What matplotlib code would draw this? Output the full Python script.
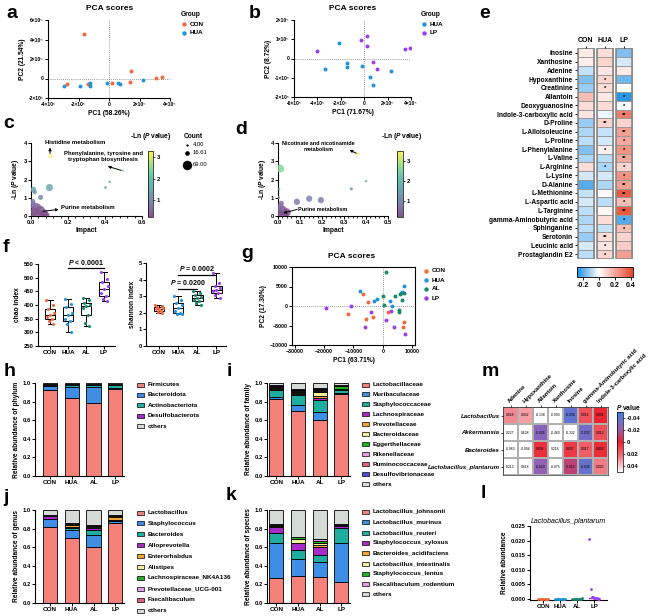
import matplotlib.pyplot as plt
import numpy as np
from matplotlib.cm import ScalarMappable
from matplotlib.colors import LinearSegmentedColormap, ListedColormap, Normalize
from matplotlib.patches import Rectangle
from matplotlib.ticker import MultipleLocator

W, H = 650, 616
GROUPS = ["CON", "HUA", "AL", "LP"]
GROUP_COLORS = {"CON": "#f2683c", "HUA": "#1f93dc", "AL": "#17886c", "LP": "#9b3cf0"}

# ---- a: PCA CON vs HUA (x10^5)
a_con_x = [-1.62, -2.75, -1.38, 0.22, 1.44, 1.40, 3.06, 3.48]
a_con_y = [4.55, -0.52, -0.52, -0.49, 0.73, -0.35, 0.02, 0.14]
a_hua_x = [-2.97, -1.92, -1.27, -1.27, -0.11, 0.61, 0.74, 2.21]
a_hua_y = [-0.80, -0.73, -0.42, -0.76, -0.42, -0.42, -0.56, -0.17]

# ---- b: PCA HUA vs LP (x10^5)
b_hua_x = [-2.18, -3.32, -1.44, -1.47, -0.21, 0.47, 0.71, 2.29]
b_hua_y = [0.78, -0.57, -0.22, -0.43, -0.40, -0.95, -1.36, -0.66]
b_lp_x = [-4.0, -0.26, 0.24, 0.24, 0.76, 1.09, 3.47, 3.88]
b_lp_y = [0.41, 0.95, 1.17, 0.64, -0.16, -0.52, 0.47, 0.55]

# ---- c / d: pathway impact bubbles (impact, -ln p, count)
c_impact = [0.105, 0.497, 0.425, 0.403, 0.100, 0.013, 0.020, 0.052, 0.010, 0.030, 0.050, 0.020, 0.070, 0.005, 0.040, 0.080, 0.010]
c_lnp = [3.27, 2.49, 1.87, 1.56, 1.56, 1.45, 1.31, 1.02, 0.60, 0.45, 0.30, 0.25, 0.15, 0.10, 0.05, 0.05, 0.80]
c_count = [10, 4, 5, 6, 40, 25, 15, 20, 40, 69, 69, 50, 45, 30, 69, 40, 20]
d_impact = [0.364, 0.400, 0.333, 0.010, 0.005, 0.002, 0.086, 0.142, 0.195, 0.010, 0.020, 0.040, 0.005, 0.015, 0.030]
d_lnp = [3.40, 1.91, 1.49, 2.60, 1.47, 1.00, 0.78, 0.95, 0.87, 0.50, 0.30, 0.20, 0.15, 0.70, 0.05]
d_count = [8, 5, 8, 50, 5, 8, 30, 30, 30, 40, 69, 50, 60, 20, 40]

# ---- e: metabolite heatmap
e_metabolites = ["Inosine", "Xanthosine", "Adenine", "Hypoxanthine", "Creatinine", "Allantoin",
                 "Deoxyguanosine", "Indole-3-carboxylic acid", "D-Proline", "L-Alloisoleucine",
                 "L-Proline", "L-Phenylalanine", "L-Valine", "L-Arginine", "L-Lysine", "D-Alanine",
                 "L-Methionine", "L-Aspartic acid", "L-Targinine", "gamma-Aminobutyric acid",
                 "Sphinganine", "Serotonin", "Leucinic acid", "Prostaglandin E2"]
e_columns = ["CON", "HUA", "LP"]
e_con = [0.05, 0.04, -0.07, -0.15, -0.12, 0.15, 0.08, 0.06, -0.12, -0.10, -0.08, -0.15,
         -0.10, 0.08, -0.05, -0.20, -0.07, -0.05, -0.08, -0.10, -0.08, -0.12, -0.05, -0.08]
e_hua = [0.08, 0.10, 0.06, 0.10, 0.08, 0.05, 0.08, -0.02, 0.10, -0.07, -0.05, 0.03,
         -0.08, -0.10, -0.05, -0.10, 0.01, -0.08, 0.02, 0.08, -0.07, 0.08, 0.06, 0.10]
e_lp = [-0.15, -0.05, 0.05, -0.17, 0.00, -0.25, 0.00, 0.30, 0.10, 0.22, 0.20, 0.25,
        0.20, 0.10, 0.25, 0.22, 0.38, 0.15, 0.38, -0.20, 0.15, 0.10, 0.12, 0.22]
e_hua_stars = ["", "", "", "*", "*", "", "", "", "**", "", "", "*", "", "*", "", "", "", "", "", "", "", "**", "*", "*"]
e_lp_stars = ["", "", "", "", "", "*", "*", "**", "", "**", "*", "*", "**", "*", "*", "**", "**", "*", "**", "*", "*", "", "", ""]

# ---- f: alpha diversity
chao = {"CON": [420, 400, 385, 372, 362, 355, 348, 340, 330],
        "HUA": [422, 405, 392, 372, 365, 350, 340, 330, 300],
        "AL": [425, 418, 408, 400, 395, 388, 365, 335, 325],
        "LP": [520, 495, 485, 468, 458, 445, 432, 422, 415]}
shannon = {"CON": [2.50, 2.42, 2.35, 2.30, 2.25, 2.20, 2.12, 2.05, 2.00],
           "HUA": [3.00, 2.80, 2.62, 2.45, 2.30, 2.12, 2.00, 1.95, 1.90],
           "AL": [3.30, 3.20, 3.05, 2.95, 2.90, 2.80, 2.70, 2.60, 2.50],
           "LP": [4.40, 3.80, 3.62, 3.50, 3.40, 3.30, 3.20, 3.05, 2.90]}

# ---- g: PCA 4 groups
g_x = {"CON": [-6900, -5100, -11800, -5800, -3300, 1700, 7300, 7000],
       "HUA": [7100, -7900, -3100, -2000, 2400, 3200, 6100, 6600],
       "AL": [1000, 5900, 7200, 4300, 0, 400, 5500, 5700, 6500],
       "LP": [-19300, -10700, -4000, 2800, 1200, -6200, 3800, 7700]}
g_y = {"CON": [3100, 900, -2100, -3400, -2700, -1500, -4000, -5300],
       "HUA": [5200, 3850, 1300, 1700, 1200, -100, 3300, 3500],
       "AL": [8700, 3200, 3400, 2500, 2500, 350, -1100, -1500, 1500],
       "LP": [-600, -100, -1500, -1300, -3700, -5500, -5500, -7200]}

# ---- h-k: relative abundance
phylum_names = ["Firmicutes", "Bacteroidota", "Actinobacteriota", "Desulfobacterota", "others"]
phylum_vals = [[0.930, 0.843, 0.780, 0.937],
               [0.040, 0.117, 0.180, 0.008],
               [0.012, 0.020, 0.020, 0.035],
               [0.004, 0.004, 0.004, 0.004],
               [0.014, 0.016, 0.016, 0.016]]
family_names = ["Lactobacillaceae", "Muribaculaceae", "Staphylococcaceae", "Lachnospiraceae",
                "Prevotellaceae", "Bacteroidaceae", "Eggerthellaceae", "Rikenellaceae",
                "Ruminococcaceae", "Desulfovibrionaceae", "others"]
family_vals = [[0.825, 0.697, 0.607, 0.885],
               [0.025, 0.063, 0.083, 0.005],
               [0.080, 0.108, 0.125, 0.030],
               [0.008, 0.012, 0.022, 0.005],
               [0.005, 0.012, 0.020, 0.004],
               [0.005, 0.012, 0.045, 0.004],
               [0.012, 0.010, 0.015, 0.030],
               [0.004, 0.006, 0.010, 0.004],
               [0.006, 0.008, 0.012, 0.004],
               [0.004, 0.006, 0.010, 0.004],
               [0.026, 0.066, 0.051, 0.025]]
genus_names = ["Lactobacillus", "Staphylococcus", "Bacteroides", "Alloprevotella", "Enterorhabdus",
               "Alistipes", "Lachnospiraceae_NK4A136", "Prevotellaceae_UCG-001", "Faecalibaculum", "others"]
genus_vals = [[0.820, 0.694, 0.597, 0.856],
              [0.080, 0.090, 0.133, 0.024],
              [0.004, 0.018, 0.054, 0.006],
              [0.030, 0.018, 0.025, 0.008],
              [0.006, 0.014, 0.012, 0.035],
              [0.003, 0.006, 0.006, 0.004],
              [0.003, 0.010, 0.006, 0.008],
              [0.002, 0.004, 0.004, 0.003],
              [0.002, 0.002, 0.003, 0.003],
              [0.050, 0.144, 0.160, 0.053]]
species_names = ["Lactobacillus_johnsonii", "Lactobacillus_murinus", "Lactobacillus_reuteri",
                 "Staphylococcus_xylosus", "Bacteroides_acidifaciens", "Lactobacillus_intestinalis",
                 "Staphylococcus_lentus", "Faecalibaculum_rodentium", "others"]
species_vals = [[0.270, 0.288, 0.280, 0.230],
                [0.370, 0.190, 0.162, 0.410],
                [0.115, 0.090, 0.072, 0.170],
                [0.065, 0.072, 0.083, 0.020],
                [0.005, 0.008, 0.023, 0.004],
                [0.005, 0.035, 0.025, 0.004],
                [0.012, 0.022, 0.025, 0.004],
                [0.003, 0.007, 0.015, 0.008],
                [0.155, 0.288, 0.315, 0.150]]

# ---- l: L. plantarum abundance
plantarum = {"CON": [0, 0, 0, 0, 0, 0, 0, 0, 0],
             "HUA": [0, 0, 0, 0, 0, 0, 0, 0, 0],
             "AL": [0, 0, 0, 0, 0, 0, 0, 0, 0.0002],
             "LP": [0.0205, 0.0033, 0.0008, 0.0006, 0.0004, 0.0003, 0.0002, 0.0001, 0.0]}

# ---- m: correlation p-values (signed)
m_columns = ["Adenine", "Hypoxanthine", "Allantoin", "Xanthosine", "Inosine",
             "gamma-Aminobutyric acid", "Indole-3-carboxylic acid"]
m_rows = ["Lactobacillus", "Akkermansia", "Bacteroides", "Lactobacillus_plantarum"]
m_vals = [[0.028, 0.032, -0.138, -0.093, -0.038, 0.014, 0.001],
          [0.227, 0.628, -0.026, -0.460, -0.332, -0.032, 0.013],
          [-0.063, -0.094, 0.004, 0.218, 0.007, 0.017, 0.003],
          [0.213, 0.618, -0.023, -0.075, -0.012, -0.036, 0.025]]

TAXA_COLORS = ["#f4827b", "#3f8ee6", "#1fada0", "#a62bc8", "#f5a236", "#f4f09a",
               "#22b022", "#e79ae8", "#e0607e", "#4a4ad8"]
OTHERS_COLOR = "#d6dad6"

plt.rcParams.update({
    "font.family": ["Liberation Sans", "DejaVu Sans"],
    "font.size": 4.5,
    "font.weight": "bold",
    "axes.linewidth": 0.8,
    "axes.labelweight": "bold",
    "axes.labelsize": 4.8,
    "axes.labelpad": 2,
    "axes.spines.top": False,
    "axes.spines.right": False,
    "xtick.labelsize": 4.2,
    "ytick.labelsize": 4.2,
    "xtick.major.width": 0.7,
    "ytick.major.width": 0.7,
    "xtick.major.size": 2,
    "ytick.major.size": 2,
    "xtick.minor.size": 1.2,
    "xtick.major.pad": 1,
    "ytick.major.pad": 1,
    "mathtext.fontset": "custom",
    "mathtext.it": "Liberation Sans:italic:bold",
    "mathtext.rm": "Liberation Sans:bold",
    "mathtext.bf": "Liberation Sans:bold",
})

fig = plt.figure(figsize=(6.5, 6.16), dpi=100)
fig.patch.set_facecolor("white")


def px_axes(left, top, right, bottom, **kw):
    return fig.add_axes([left / W, 1 - bottom / H, (right - left) / W, (bottom - top) / H], **kw)


ov = fig.add_axes([0, 0, 1, 1], zorder=20)
ov.set_xlim(0, W)
ov.set_ylim(H, 0)
ov.axis("off")
ov.patch.set_alpha(0)

for letter, (lx, ly) in {"a": (12, 14), "b": (255, 14), "c": (9, 124), "d": (241, 130), "e": (485, 14),
                         "f": (6, 247), "g": (247, 253), "h": (10, 371), "i": (229, 371), "j": (6, 497),
                         "k": (231, 495), "l": (483, 493), "m": (490, 372)}.items():
    ov.text(lx, ly, letter, fontsize=14, fontweight="bold", ha="center", va="center")


def sci_labels(ticks):
    return ["0" if t == 0 else f"{t:d}×10⁵" for t in ticks]


def pca_panel(box, xlim, ylim, xticks, yticks, series, xlabel, ylabel, title, tx):
    ax = px_axes(*box)
    for xs, ys, col in series:
        ax.scatter(xs, ys, s=8, color=col, linewidths=0, zorder=3)
    ax.axhline(0, ls=(0, (1, 1.5)), color="#777777", lw=0.6)
    ax.axvline(0, ls=(0, (1, 1.5)), color="#777777", lw=0.6)
    ax.set_xlim(*xlim)
    ax.set_ylim(*ylim)
    ax.set_xticks(xticks)
    ax.set_xticklabels(sci_labels(xticks), fontsize=3.6)
    ax.set_yticks(yticks)
    ax.set_yticklabels(sci_labels(yticks), fontsize=3.6)
    ax.set_xlabel(xlabel)
    ax.set_ylabel(ylabel)
    ov.text(tx, 8, title, fontsize=6, ha="center", va="center")
    return ax


pca_panel((48, 20, 170, 98), (-4, 4), (-2, 6), [-4, -2, 0, 2, 4], [-2, 0, 2, 4, 6],
          [(a_con_x, a_con_y, GROUP_COLORS["CON"]), (a_hua_x, a_hua_y, GROUP_COLORS["HUA"])],
          "PC1 (58.26%)", "PC2 (21.54%)", "PCA scores", 110)
pca_panel((294, 20, 411, 97), (-6, 4), (-2, 2), [-6, -4, -2, 0, 2, 4], [-2, -1, 0, 1, 2],
          [(b_hua_x, b_hua_y, GROUP_COLORS["HUA"]), (b_lp_x, b_lp_y, GROUP_COLORS["LP"])],
          "PC1 (71.67%)", "PC2 (8.72%)", "PCA scores", 353)


def dot_legend(x, y0, dy, names, colors, title=None):
    if title:
        ov.text(x - 3, y0 - dy, title, fontsize=4.8, ha="left", va="center")
    for i, (n, c) in enumerate(zip(names, colors)):
        ov.scatter([x], [y0 + i * dy], s=10, color=c, linewidths=0)
        ov.text(x + 6, y0 + i * dy, n, fontsize=4.6, ha="left", va="center")


dot_legend(184, 24, 9, ["CON", "HUA"], [GROUP_COLORS["CON"], GROUP_COLORS["HUA"]], "Group")
dot_legend(424, 24, 9, ["HUA", "LP"], [GROUP_COLORS["HUA"], GROUP_COLORS["LP"]], "Group")

# pastel viridis for pathway bubbles
_vir = plt.get_cmap("viridis")(np.linspace(0, 1, 256))
_vir[:, :3] = _vir[:, :3] * 0.68 + 0.32
pastel = ListedColormap(_vir)
ARROW = dict(arrowstyle="-|>", color="black", lw=0.7, mutation_scale=4, shrinkA=0, shrinkB=0)


def bubble_panel(box, cbox, xs, ys, counts, xlim, xmajor, xminor, vmax):
    ax = px_axes(*box)
    norm = Normalize(0.2, vmax)
    order = np.argsort(counts)[::-1]
    ax.scatter(np.array(xs)[order], np.array(ys)[order], s=np.array(counts)[order] * 0.67,
               c=np.array(ys)[order], cmap=pastel, norm=norm, alpha=0.85, linewidths=0, zorder=3)
    ax.set_xlim(*xlim)
    ax.set_ylim(0, 4)
    ax.xaxis.set_major_locator(MultipleLocator(xmajor))
    ax.xaxis.set_minor_locator(MultipleLocator(xminor))
    ax.set_yticks([0, 1, 2, 3, 4])
    ax.xaxis.set_major_formatter(lambda v, p: f"{v:.1f}")
    ax.set_xlabel("Impact", labelpad=1.5)
    ax.set_ylabel("-Ln ($P$ value)", labelpad=2)
    cax = px_axes(*cbox)
    cb = fig.colorbar(ScalarMappable(norm=norm, cmap=pastel), cax=cax)
    cb.set_ticks([1, 2, 3])
    cb.outline.set_linewidth(0.5)
    cax.tick_params(labelsize=4.2, width=0.5, length=1.5)
    return ax


ax_c = bubble_panel((31, 143, 142, 216), (148, 151, 153, 217), c_impact, c_lnp, c_count,
                    (0, 0.6), 0.2, 0.04, 3.3)
ov.text(151, 136, "-Ln ($P$ value)", fontsize=4.8, ha="center", va="center")
ov.text(184, 136, "Count", fontsize=4.8, ha="left", va="center")
for yy, cnt in zip([145, 153, 165], [4.00, 16.61, 69.00]):
    ov.scatter([187], [yy], s=cnt * 0.67, color="black", linewidths=0)
    ov.text(193, yy, f"{cnt:.2f}", fontsize=4.2, ha="left", va="center", fontweight="normal")
ax_c.text(0.078, 4.05, "Histidine metabolism", fontsize=4.3, ha="left", va="center", clip_on=False)
ax_c.annotate("", xy=(0.103, 3.75), xytext=(0.103, 3.42), arrowprops=ARROW)
ax_c.text(0.39, 3.27, "Phenylalanine, tyrosine and\ntryptophan biosynthesis", fontsize=4.3,
          ha="center", va="center", linespacing=1.25)
ax_c.annotate("", xy=(0.415, 2.72), xytext=(0.488, 2.5), arrowprops=ARROW)
ax_c.text(0.16, 0.45, "Purine metabolism", fontsize=4.3, ha="left", va="center")
ax_c.annotate("", xy=(0.15, 0.36), xytext=(0.065, 0.26), arrowprops=ARROW)

ax_d = bubble_panel((278, 143, 388, 216), (397, 151, 403, 217), d_impact, d_lnp, d_count,
                    (0, 0.5), 0.1, 0.02, 3.5)
ov.text(402, 136, "-Ln ($P$ value)", fontsize=4.8, ha="center", va="center")
ax_d.text(0.185, 3.8, "Nicotinate and nicotinamide\nmetabolism", fontsize=3.9, ha="center",
          va="center", linespacing=1.3)
ax_d.annotate("", xy=(0.325, 3.62), xytext=(0.356, 3.44), arrowprops=ARROW)
ax_d.text(0.093, 0.37, "Purine metabolism", fontsize=4.0, ha="left", va="center")
ax_d.annotate("", xy=(0.024, 0.16), xytext=(0.087, 0.36), arrowprops=ARROW)

# ---- e heatmap
e_cmap = LinearSegmentedColormap.from_list("e", [(0, "#1b8fe6"), (0.386, "#ffffff"), (1, "#e8452a")])
e_norm = Normalize(-0.27, 0.43)
ax_e = px_axes(577, 48, 633, 259)
starts = [0, 1.2, 2.4]
for st, col, stars in zip(starts, [e_con, e_hua, e_lp], [[""] * 24, e_hua_stars, e_lp_stars]):
    ax_e.pcolormesh([st, st + 1], np.arange(len(e_metabolites) + 1), np.array(col)[:, None],
                    cmap=e_cmap, norm=e_norm, edgecolors="#9a9a9a", linewidth=0.4)
    ax_e.add_patch(Rectangle((st, 0), 1, len(e_metabolites), fill=False, ec="#8a8a8a", lw=1.2))
    for i, s in enumerate(stars):
        if s:
            ax_e.text(st + 0.5, i + 0.62, s, fontsize=4.2, ha="center", va="center")
ax_e.set_xlim(-0.05, 3.45)
ax_e.set_ylim(len(e_metabolites) + 0.05, -0.05)
for sp in ax_e.spines.values():
    sp.set_visible(False)
ax_e.set_yticks(np.arange(len(e_metabolites)) + 0.5)
ax_e.set_yticklabels(e_metabolites, fontsize=4.8)
ax_e.set_xticks([s + 0.5 for s in starts])
ax_e.set_xticklabels(e_columns, fontsize=5)
ax_e.xaxis.tick_top()
ax_e.tick_params(axis="both", length=1.8, width=0.6, pad=1)
cax_e = px_axes(577, 267, 633, 277)
cb_e = fig.colorbar(ScalarMappable(norm=e_norm, cmap=e_cmap), cax=cax_e, orientation="horizontal")
cb_e.set_ticks([-0.2, 0, 0.2, 0.4])
cb_e.set_ticklabels(["-0.2", "0", "0.2", "0.4"])
cb_e.outline.set_linewidth(0.6)
cax_e.tick_params(labelsize=5, width=0.6, length=1.8, pad=2)


# ---- f boxplots
JITTER = [-0.2, 0.15, -0.1, 0.2, 0.0, -0.18, 0.1, -0.05, 0.18]


def box_panel(box, data, xlim, ylim, yticks, ylabel):
    ax = px_axes(*box)
    for i, g in enumerate(GROUPS):
        vals = data[g]
        ax.boxplot([vals], positions=[i], widths=0.55, whis=(0, 100), patch_artist=True,
                   boxprops=dict(facecolor="white", edgecolor="black", lw=0.7),
                   medianprops=dict(color="black", lw=0.7), whiskerprops=dict(lw=0.7),
                   capprops=dict(lw=0.7), showfliers=False, zorder=2)
        ax.scatter(np.array(JITTER) + i, vals, s=5, color=GROUP_COLORS[g], linewidths=0, zorder=3)
    ax.set_xlim(*xlim)
    ax.set_ylim(*ylim)
    ax.set_yticks(yticks)
    ax.set_xticks(range(4))
    ax.set_xticklabels(GROUPS, fontsize=4.6)
    ax.set_ylabel(ylabel)
    return ax


ax_f1 = box_panel((38, 264, 115, 346), chao, (-0.67, 3.6), (250, 550), range(250, 551, 50), "chao index")
ax_f1.plot([1, 3], [535, 535], color="black", lw=0.9)
ax_f1.text(2, 540, "$P$ < 0.0001", fontsize=5, ha="center", va="bottom")
ax_f2 = box_panel((146, 263, 226, 346), shannon, (-0.68, 3.5), (0, 5), range(0, 6), "shannon index")
ax_f2.plot([1, 2], [3.45, 3.45], color="black", lw=0.9)
ax_f2.text(1.5, 3.55, "$P$ = 0.0200", fontsize=5, ha="center", va="bottom")
ax_f2.plot([1, 3], [4.3, 4.3], color="black", lw=0.9)
ax_f2.text(2, 4.4, "$P$ = 0.0002", fontsize=5, ha="center", va="bottom")

# ---- g PCA
ax_g = px_axes(292, 267, 415, 345)
for g in GROUPS:
    ax_g.scatter(g_x[g], g_y[g], s=8, color=GROUP_COLORS[g], linewidths=0, zorder=3)
ax_g.axhline(0, ls=(0, (1, 1.5)), color="#777777", lw=0.6)
ax_g.axvline(0, ls=(0, (1, 1.5)), color="#777777", lw=0.6)
ax_g.set_xlim(-31000, 11000)
ax_g.set_ylim(-10000, 10000)
ax_g.spines["top"].set_visible(True)
ax_g.spines["right"].set_visible(True)
ax_g.set_xticks([-30000, -20000, -10000, 0, 10000])
ax_g.set_yticks([-10000, -5000, 0, 5000, 10000])
ax_g.tick_params(labelsize=3.8)
ax_g.set_xlabel("PC1 (63.71%)")
ax_g.set_ylabel("PC2 (17.30%)")
ov.text(352, 256, "PCA scores", fontsize=6, ha="center", va="center")
dot_legend(426, 271, 9, GROUPS, [GROUP_COLORS[g] for g in GROUPS])


# ---- h-k stacked bars
def stacked_panel(box, names, vals, xlim, ylabel, leg_x, leg_y, leg_dy):
    ax = px_axes(*box)
    colors = TAXA_COLORS[:len(names) - 1] + [OTHERS_COLOR]
    bottom = np.zeros(4)
    for v, c in zip(vals, colors):
        ax.bar(range(4), v, 0.66, bottom=bottom, color=c, edgecolor="black", lw=0.6)
        bottom += np.array(v)
    ax.set_xlim(*xlim)
    ax.set_ylim(0, 1.0)
    ax.set_yticks(np.arange(0, 1.01, 0.2))
    ax.yaxis.set_major_formatter(lambda v, p: f"{v:.1f}")
    ax.set_xticks(range(4))
    ax.set_xticklabels(GROUPS, fontsize=4.6)
    ax.set_ylabel(ylabel)
    for i, (n, c) in enumerate(zip(names, colors)):
        y = leg_y + i * leg_dy
        ov.add_patch(Rectangle((leg_x, y - 2), 7, 4, fc=c, ec="black", lw=0.5))
        ov.text(leg_x + 11, y, n, fontsize=4.6, ha="left", va="center")
    return ax


stacked_panel((35, 383, 124, 476), phylum_names, phylum_vals, (-0.7, 3.4),
              "Relative abundance of phylum", 137, 384.5, 10.4)
stacked_panel((267, 383, 350, 476), family_names, family_vals, (-0.43, 3.4),
              "Relative abundance of family", 362, 384.5, 9.95)
stacked_panel((35, 510, 124, 603), genus_names, genus_vals, (-0.7, 3.4),
              "Relative abundance of genus", 137, 512.5, 10.9)
stacked_panel((267, 510, 350, 603), species_names, species_vals, (-0.43, 3.4),
              "Relative abundance of species", 362, 512, 10.3)

# ---- l strip plot
ax_l = px_axes(530, 526, 607, 600)
SPREAD = [-0.3, -0.22, -0.15, -0.07, 0.0, 0.07, 0.15, 0.22, 0.3]
for i, g in enumerate(GROUPS):
    vals = plantarum[g]
    ax_l.scatter(np.array(SPREAD) + i, vals, s=4, color=GROUP_COLORS[g], linewidths=0, zorder=3)
    ax_l.plot([i - 0.3, i + 0.3], [np.median(vals)] * 2, color=GROUP_COLORS[g], lw=1.0, zorder=2)
ax_l.set_xlim(-0.79, 3.75)
ax_l.set_ylim(-0.0004, 0.025)
ax_l.set_yticks([0, 0.005, 0.010, 0.015, 0.020, 0.025])
ax_l.yaxis.set_major_formatter(lambda v, p: f"{v:.3f}")
ax_l.set_xticks(range(4))
ax_l.set_xticklabels(GROUPS, fontsize=4.4)
ax_l.set_ylabel("Relative abundance")
ax_l.set_title("Lactobacillus_plantarum", fontsize=5, fontstyle="italic", pad=2)

# ---- m correlation heatmap
m_cmap = LinearSegmentedColormap.from_list(
    "m", [(0, "#3c7fe6"), (0.27, "#9262b4"), (0.5, "#e8222e"), (0.75, "#f27a82"), (1, "#ffffff")])
m_cmap.set_under("white")
m_cmap.set_over("white")
m_norm = Normalize(-0.05, 0.05)
ax_m = px_axes(503, 407, 608, 475)
ax_m.pcolormesh(np.arange(len(m_columns) + 1), np.arange(len(m_rows) + 1), np.array(m_vals),
                cmap=m_cmap, norm=m_norm, edgecolors="#b0b0b0", linewidth=0.3)
for r, row in enumerate(m_vals):
    for c, v in enumerate(row):
        ax_m.text(c + 0.5, r + 0.5, f"{v:.3f}", fontsize=2.4, ha="center", va="center",
                  fontweight="normal")
ax_m.set_xlim(0, len(m_columns))
ax_m.set_ylim(len(m_rows), 0)
for sp in ax_m.spines.values():
    sp.set_linewidth(0.4)
    sp.set_visible(True)
ax_m.xaxis.tick_top()
ax_m.set_xticks(np.arange(len(m_columns)) + 0.5)
ax_m.set_xticklabels(m_columns, rotation=45, ha="left", va="bottom", rotation_mode="anchor", fontsize=4.2)
ax_m.set_yticks(np.arange(len(m_rows)) + 0.5)
ax_m.set_yticklabels(m_rows, fontstyle="italic", fontsize=4.4)
ax_m.tick_params(length=1.5, width=0.5, pad=1)
cax_m = px_axes(617, 412, 623, 472)
cb_m = fig.colorbar(ScalarMappable(norm=m_norm, cmap=m_cmap), cax=cax_m)
cb_m.set_ticks([-0.04, -0.02, 0, 0.02, 0.04])
cb_m.set_ticklabels(["-0.04", "-0.02", "0", "0.02", "0.04"])
cax_m.invert_yaxis()
cb_m.outline.set_linewidth(0.5)
cax_m.tick_params(labelsize=4.2, width=0.5, length=1.5)
ov.text(628, 407, "$P$ value", fontsize=4.8, ha="center", va="center")

fig.savefig("out.png", dpi=100, facecolor="white")
